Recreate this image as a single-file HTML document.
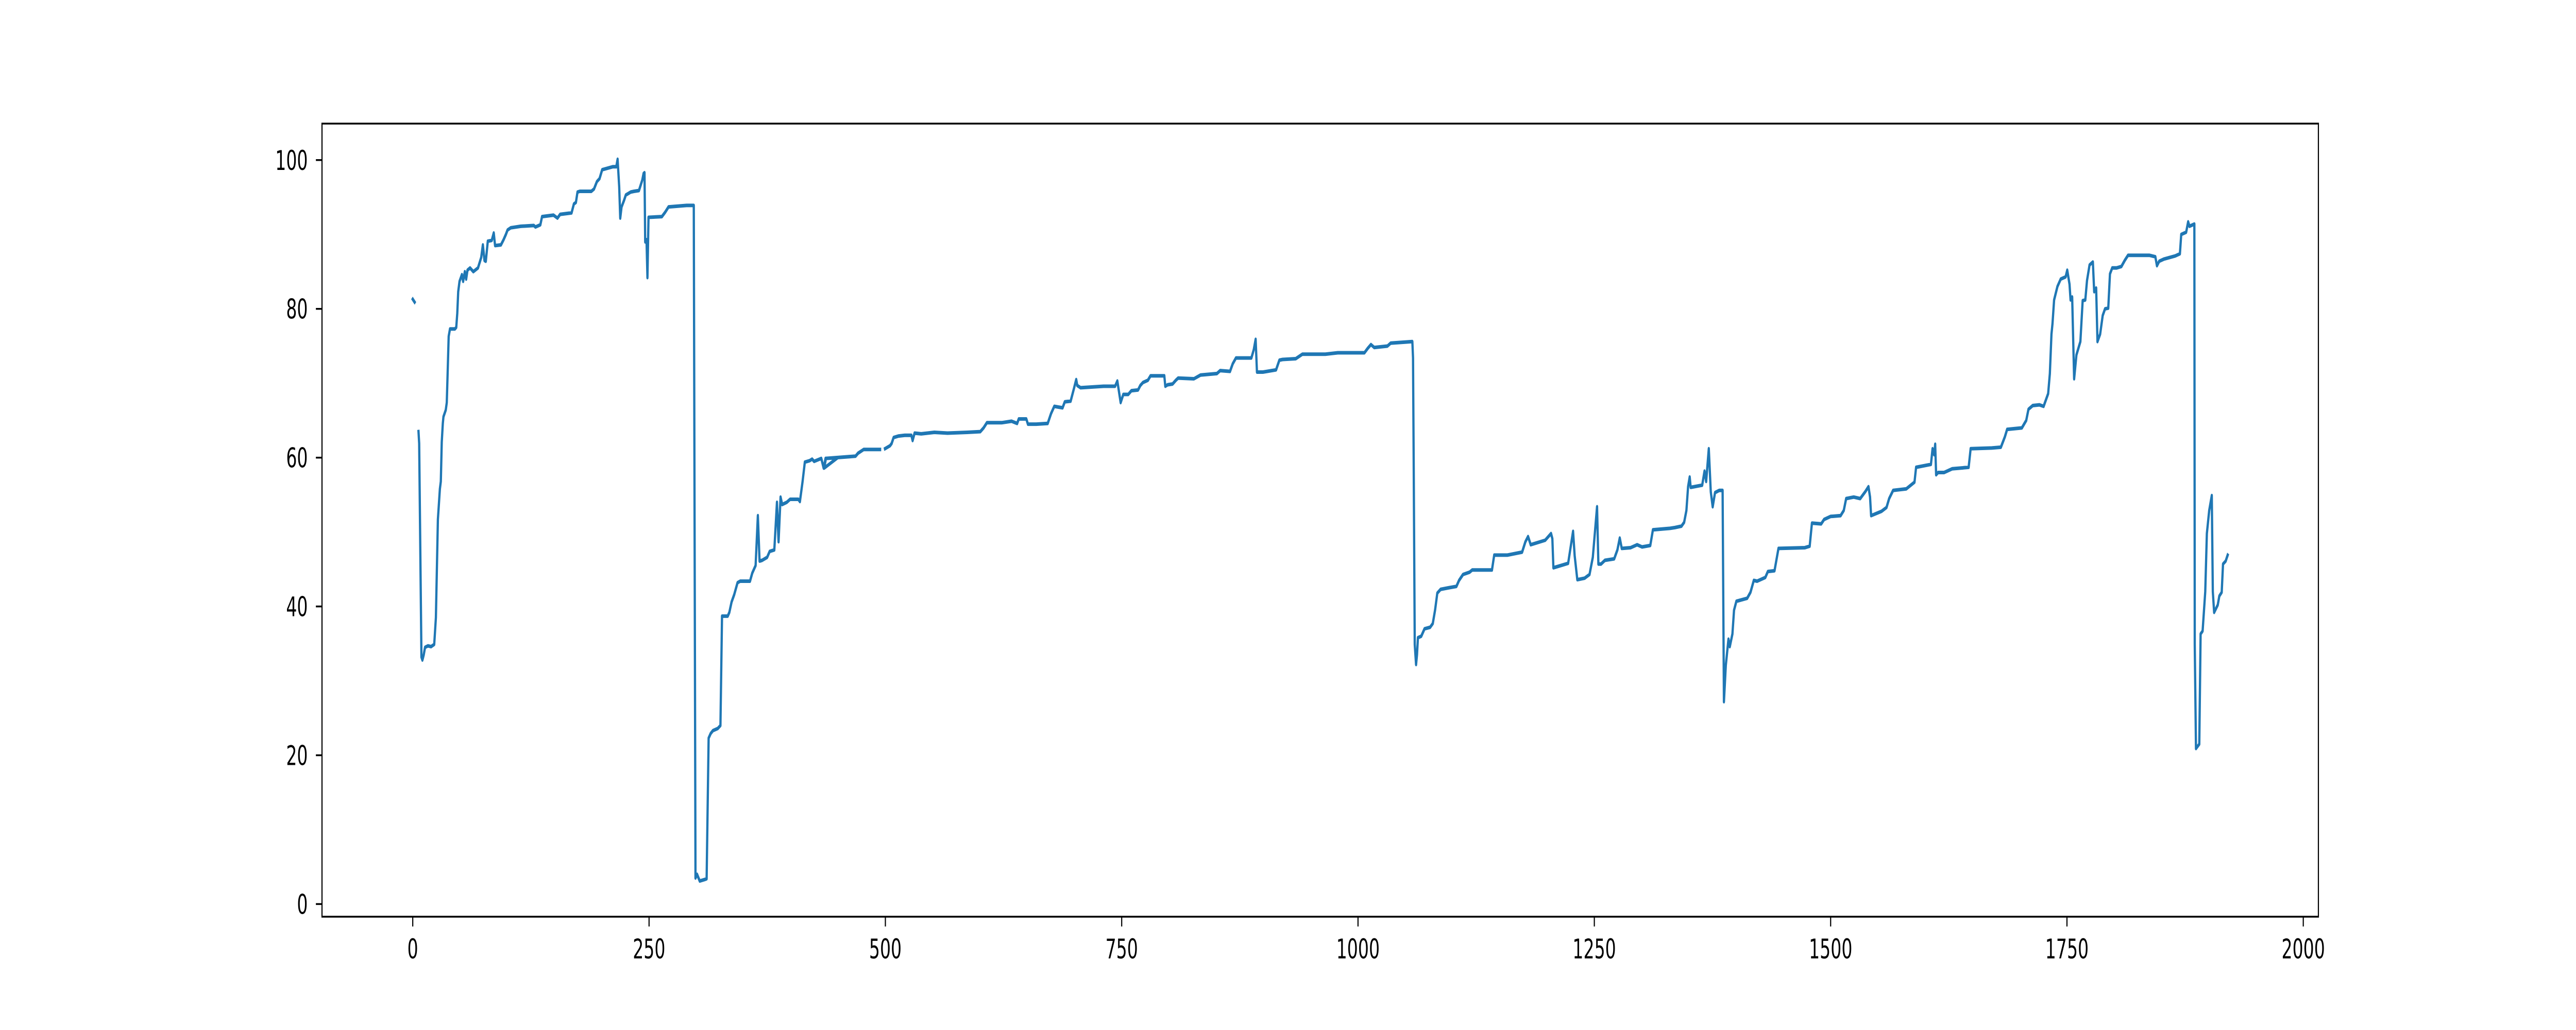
<!DOCTYPE html>
<html><head><meta charset="utf-8"><style>
html,body{margin:0;padding:0;background:#fff;width:100%;height:100%;overflow:hidden;}
svg{display:block;width:100vw;height:100vh;}
text{font-family:"DejaVu Sans","Liberation Sans",sans-serif;font-size:53px;fill:#000;}
</style></head>
<body>
<svg id="chart" viewBox="0 0 8000 2000" preserveAspectRatio="none" xmlns="http://www.w3.org/2000/svg">
<rect x="0" y="0" width="8000" height="2000" fill="#fff"/>
<g id="plot"></g>
</svg>
<script>
const xTicks = [0, 250, 500, 750, 1000, 1250, 1500, 1750, 2000];
const yTicks = [0, 20, 40, 60, 80, 100];
const seriesX = [0,2,null,
6.1,6.8,9.2,10.2,11.6,13,16.1,19.3,22.7,24.5,26.6,28.7,29.7,30.7,31.8,32.5,34.9,36,37,38,39.4,44.6,46,47.1,48.1,49.5,52,53.3,55.1,56.5,57.9,60.6,64.1,69,72.4,74.2,75.9,77.3,79.4,83.6,85.7,87.1,93.3,96.1,98.5,100.3,103.7,114.2,128.1,129.8,135,136.8,148.9,153.1,155.9,168,170.5,172.6,174.3,176.7,188.9,191.7,194.8,197.6,200.4,211.5,215.3,216.7,218.4,219.5,220.9,223.6,225.4,230.6,234.1,239.3,242.8,244.2,245.2,245.9,247.3,248.3,249.4,263.6,267.1,270.6,289.7,297.3,299.1,300.8,303.6,308.8,310.9,313,315.1,317.5,322.7,325.5,327.2,333.2,334.9,337.3,340.1,343.6,346.4,356.8,359.2,362.7,365.1,366.9,369.6,374.9,377.6,382.5,385.3,387,389.1,390.8,395.7,399.2,407.9,409.6,412.4,414.8,420,422.5,424.6,432.2,434.7,436.7,449.6,
435.3,437.1,468.4,471.1,477,494.4,null,
499.6,504.9,506.6,508.7,513.6,520.5,527.5,528.8,530.9,537.9,551.8,565.7,586.5,600.4,603.9,607.4,623.1,633.5,639.4,641.1,649.1,650.8,659.5,671.7,675.2,678.7,687.4,689.8,696,699.5,701.9,703,706.5,730.8,743,745.4,748.9,751.7,756.9,760.3,767.3,769.7,772.5,777.7,780.5,795.1,796.1,798.6,803.8,807.3,809.7,826.4,833.3,850.7,854.2,864.6,867.4,870.9,887.2,889.7,891.7,893.1,899.4,913.3,916.8,920.2,934.1,941.1,965.4,978.6,
1006.8,1010.3,1013.7,1017.2,1031.1,1034.6,1057.5,1058.2,1058.9,1060,1061.4,1062.4,1063.4,1066.9,1070.4,1076.3,1079.1,1081.5,1083.9,1087.4,1095.4,1104.1,1106.9,1111.1,1118,1120.8,1141.7,1144.1,1158,1173.6,1177.1,1179.9,1182.7,1198,1204.2,1205.6,1206.7,1222.3,1225.8,1227.5,1229.2,1232,1239.7,1244.9,1248.4,1252.9,1254.3,1257.1,1261.2,1271,1274.4,1276.9,1279,1288.3,1295.3,1300.5,1309.2,1312,1330.1,1335.3,1342.2,1345,1347.4,1349.2,1350.9,1351.9,1364.1,1366.6,1368.3,1371.1,1373.2,1375.2,1377.7,1382.2,1385.7,1387.1,1389.1,1391.9,1393.3,1396.1,1397.8,1400.3,1411.7,1415.2,1418.7,1422.2,1430.9,1433.6,1440.6,1444.8,1472.6,1477.8,1480.2,1490,
1493.1,1500,1510.5,1513.9,1516.4,1524.4,1531.3,1536.5,1540,1541.7,1542.8,1553.9,1559.1,1561.9,1566.1,1580,1588.7,1590.4,1606.1,1607.8,1609.5,1610.6,1611.6,1613.7,1620,1628.6,1646,1648.1,1670.4,1680.1,1684.3,1686.7,1702.3,1706.9,1709.3,1713.8,1720.8,1725.3,1730.1,1731.9,1733.6,1734.7,1736.4,1739.9,1743.4,1748.6,1750.3,1752.7,1753.8,1755.5,1757.6,1760,1764.2,1766.6,1769.4,1771.2,1773.9,1777.4,1778.8,1780.9,1782.3,1785.1,1787.8,1790.3,1793.7,1795.5,1797.9,1802.4,1807.6,1811.1,1814.6,1823.3,1837.2,1843.5,1845.2,1847.6,1852.8,1864.3,1869.5,1870.9,1876.1,1878.2,1879.6,1884.8,1885.2,1886.5,1890,1891.4,1893.5,1896.3,1898,1900.5,1903.2,1904.3,1905.7,1909.5,1911.2,1913.7,1915.1,1917.9,1920];
const seriesY = [81.3,80.9,null,
63.5,61.9,33.2,32.8,33.5,34.5,34.7,34.6,34.9,38.5,51.7,55.8,56.8,62.1,64.6,65.5,66.4,67.4,71.7,76.3,77.3,77.3,77.5,79.4,82.3,83.7,84.6,83.7,85,84,85.2,85.5,85,85.5,86.9,88.6,86.5,86.4,89.1,89.2,90.2,88.5,88.6,89.3,90,90.6,90.9,91.1,91.2,91,91.3,92.4,92.6,92.2,92.7,92.9,94.1,94.3,95.7,95.8,95.8,96.1,97.1,97.5,98.7,99.1,99.1,100.1,96.4,92.2,93.7,94.6,95.3,95.7,95.8,95.9,97.3,98.2,98.3,89,89.3,84.2,92.3,92.4,93,93.7,93.9,93.9,3.5,4,3.1,3.3,3.4,22.3,22.9,23.3,23.6,24,38.7,38.7,39.2,40.6,41.6,43.2,43.4,43.4,44.5,45.5,52.2,46.1,46.2,46.6,47.4,47.6,54,48.7,54.7,53.7,54,54.4,54.4,54.1,56.8,59.4,59.6,59.8,59.5,59.9,58.6,59.9,60,
58.6,59.9,60.2,60.6,61.1,61.1,null,
61.2,61.6,61.9,62.7,62.9,63,63,62.3,63.3,63.2,63.4,63.3,63.4,63.5,64,64.7,64.7,64.9,64.6,65.2,65.2,64.5,64.5,64.6,65.9,66.9,66.7,67.5,67.6,69.3,70.5,69.7,69.4,69.6,69.6,70.3,67.4,68.5,68.5,69,69.1,69.7,70.1,70.4,71,71,69.6,69.8,69.9,70.4,70.7,70.6,71.1,71.3,71.7,71.6,72.6,73.4,73.4,74.5,75.9,71.5,71.5,71.8,73.1,73.2,73.3,73.9,73.9,74.1,
74.1,74.7,75.2,74.8,75,75.4,75.6,73.4,59.7,34.9,32.2,33.5,35.8,36,37,37.2,37.7,39.5,41.8,42.3,42.5,42.7,43.5,44.3,44.6,44.9,44.9,46.9,46.9,47.3,48.7,49.4,48.3,48.9,49.8,49.1,45.2,45.8,48.7,50.1,46.8,43.6,43.8,44.3,46.6,53.4,45.7,45.7,46.2,46.4,47.6,49.2,47.8,47.9,48.3,48,48.2,50.3,50.5,50.6,50.8,51.3,52.9,56.1,57.4,56,56.3,58.2,56.8,61.2,55.4,53.4,55.3,55.6,55.6,27.2,32.1,35.6,34.6,36.3,39.5,40.7,41.1,41.9,43.5,43.4,43.9,44.7,44.8,47.8,47.9,48.1,51.2,51.1,
51.7,52.1,52.2,52.9,54.5,54.7,54.5,55.4,56.1,54.7,52.2,52.8,53.3,54.5,55.6,55.8,56.7,58.7,59.1,61.2,60.4,61.8,57.7,58,58,58.5,58.7,61.2,61.3,61.4,62.8,63.8,64,65,66.5,67,67.1,66.9,68.6,71.3,76.6,78,81.2,83,84,84.3,85.2,83.3,81.2,81.6,70.6,73.8,75.6,81.1,81.2,83.8,85.9,86.3,82.3,82.8,75.6,76.6,79.1,80,80.1,84.7,85.5,85.5,85.7,86.5,87.2,87.2,87.2,87,85.8,86.4,86.7,87.1,87.4,90,90.3,91.7,91.1,91.4,34.9,20.9,21.5,36.3,36.7,42,49.8,52.9,54.9,42,39.2,40.2,41.4,41.9,45.7,46.1,46.9,48.2];

const L=1000,R=7200,T=240,B=1780;
const xMin=-96,xMax=2016,yMin=-1.7,yMax=104.9;
function sx(v){return L+(v-xMin)/(xMax-xMin)*(R-L);}
function sy(v){return B-(v-yMin)/(yMax-yMin)*(B-T);}
const NS="http://www.w3.org/2000/svg";
const g=document.getElementById('plot');
function mk(tag,attrs){const e=document.createElementNS(NS,tag);for(const k in attrs)e.setAttribute(k,attrs[k]);return e;}

let d="",pen=false;
for(let i=0;i<seriesX.length;i++){
  if(seriesX[i]===null||seriesY[i]===null){pen=false;continue;}
  d+=(pen?"L":"M")+sx(seriesX[i]).toFixed(1)+","+sy(seriesY[i]).toFixed(1);
  pen=true;
}
const line=mk('path',{d:d,fill:'none',stroke:'#1f77b4','stroke-width':7,'stroke-linejoin':'round','stroke-linecap':'square'});


g.appendChild(line);

const frame=mk('rect',{x:L,y:T,width:R-L,height:B-T,fill:'none',stroke:'#000','stroke-width':3.5});


g.appendChild(frame);

xTicks.forEach(v=>{
  const x=sx(v);
  const t=mk('line',{x1:x,x2:x,y1:B,y2:B+19,stroke:'#000','stroke-width':3.5});
  
  
  g.appendChild(t);
  const lb=mk('text',{x:x,y:1861,'text-anchor':'middle'});
  lb.textContent=String(v);
  
  
  g.appendChild(lb);
});
yTicks.forEach(v=>{
  const y=sy(v);
  const t=mk('line',{x1:L-19,x2:L,y1:y,y2:y,stroke:'#000','stroke-width':3.5});
  
  
  g.appendChild(t);
  const lb=mk('text',{x:956,y:y+19,'text-anchor':'end'});
  lb.textContent=String(v);
  
  
  g.appendChild(lb);
});
</script>
</body></html>
